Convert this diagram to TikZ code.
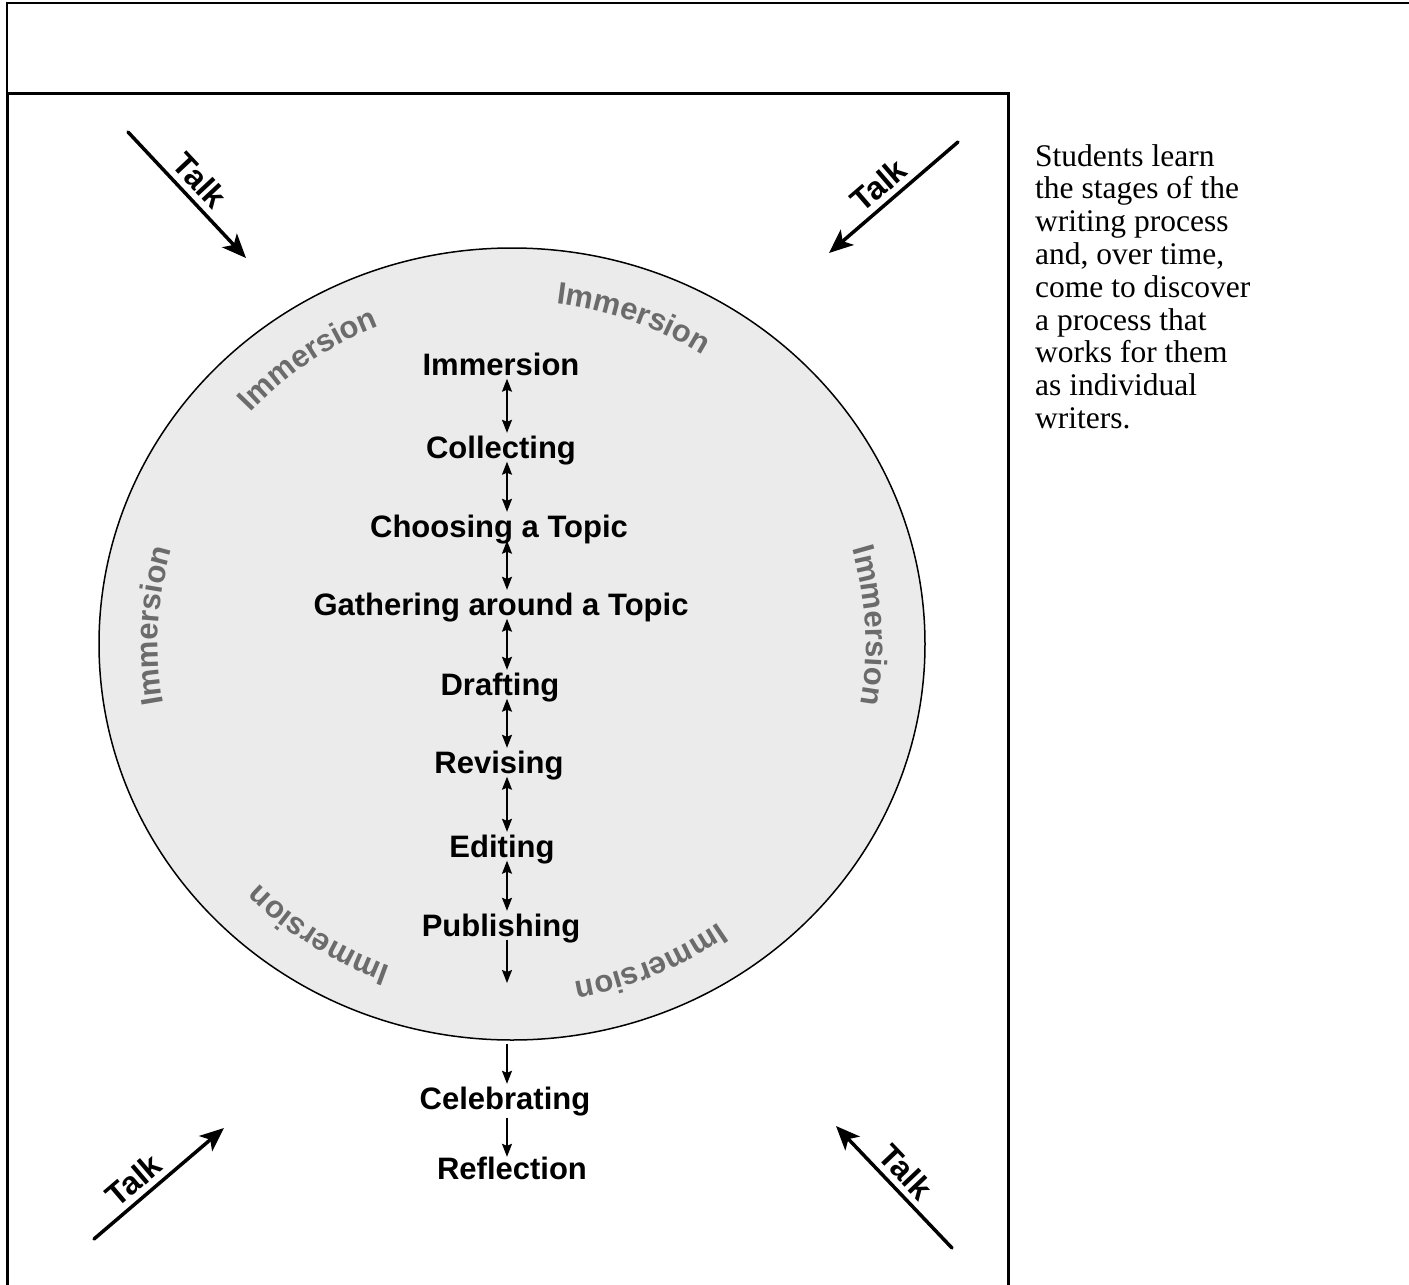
\documentclass[tikz,border=0pt]{standalone}
\usepackage{fontspec}
\setmainfont{Liberation Serif}
\newfontfamily\arialfont{Liberation Sans}
\usetikzlibrary{arrows.meta,shapes.geometric,decorations.text}
\definecolor{circfill}{HTML}{EBEBEB}
\definecolor{immgray}{HTML}{6B6B6B}
\begin{document}
\begin{tikzpicture}[x=1pt,y=1pt,
  stage/.style={font=\arialfont\bfseries\fontsize{31}{36}\selectfont, inner sep=0pt, text height=25pt, text depth=3.5pt, anchor=base},
  dbl/.style={line width=1.6pt, {Stealth[length=13pt,width=10pt,inset=2pt]}-{Stealth[length=13pt,width=10pt,inset=2pt]}},
  down/.style={line width=1.6pt, -{Stealth[length=13pt,width=10pt,inset=2pt]}},
  talkarrow/.style={line width=3.5pt, line cap=round, -{Stealth[length=24pt,width=20pt,inset=6pt]}},
  talkrev/.style={line width=3.5pt, line cap=round, {Stealth[length=24pt,width=20pt,inset=6pt]}-},
  talklabel/.style={font=\arialfont\bfseries\fontsize{32}{36}\selectfont, sloped, above=6pt, inner sep=0pt, text depth=0pt},
  imm/.style={decorate, decoration={text along path, text={|\arialfont\bfseries\fontsize{31}{36}\selectfont|Immersion}, text align=center, text color=immgray}},
  border/.style={line width=2pt},
  frame/.style={line width=3pt}
]
\useasboundingbox (0,0) rectangle (1409,-1285);
% frames
\draw[border] (7,-93) -- (7,-3) -- (1409,-3);
\draw[frame] (7,-1285) -- (7,-93) -- (1008,-93) -- (1008,-1285);

% circle
\node[ellipse, draw, fill=circfill, line width=1.5pt, minimum width=826pt, minimum height=792pt, inner sep=0pt] (circ) at (512,-644) {};

% gray Immersion labels along the rim
\path[imm] ([shift={(155:354 and 343)}]circ.center) arc[start angle=155, end angle=95, x radius=354, y radius=343];
\path[imm] ([shift={(100:354 and 343)}]circ.center) arc[start angle=100, end angle=40, x radius=354, y radius=343];
\path[imm] ([shift={(207:354 and 343)}]circ.center) arc[start angle=207, end angle=147, x radius=354, y radius=343];
\path[imm] ([shift={(33:354 and 343)}]circ.center) arc[start angle=33, end angle=-27, x radius=354, y radius=343];
\path[imm] ([shift={(267:354 and 343)}]circ.center) arc[start angle=267, end angle=207, x radius=354, y radius=343];
\path[imm] ([shift={(323:354 and 343)}]circ.center) arc[start angle=323, end angle=263, x radius=354, y radius=343];

% stages
\node[stage] (s1) at (501,-375) {Immersion};
\node[stage] (s2) at (501,-458) {Collecting};
\node[stage] (s3) at (499,-537) {Choosing a Topic};
\node[stage] (s4) at (501,-615) {Gathering around a Topic};
\node[stage] (s5) at (500,-695) {Drafting};
\node[stage] (s6) at (499,-773) {Revising};
\node[stage] (s7) at (502,-857) {Editing};
\node[stage] (s8) at (501,-936) {Publishing};
\node[stage] (s9) at (505,-1109) {Celebrating};
\node[stage] (s10) at (512,-1179) {Reflection};
\coordinate (ax) at (507,0);
\coordinate (pubend) at (507,-983);

\draw[dbl] (s1.south -| ax) -- (s2.north -| ax);
\draw[dbl] (s2.south -| ax) -- (s3.north -| ax);
\draw[dbl] (s3.south -| ax) -- (s4.north -| ax);
\draw[dbl] (s4.south -| ax) -- (s5.north -| ax);
\draw[dbl] (s5.south -| ax) -- (s6.north -| ax);
\draw[dbl] (s6.south -| ax) -- (s7.north -| ax);
\draw[dbl] (s7.south -| ax) -- (s8.north -| ax);
\draw[down] (s8.south -| ax) -- (pubend);
\draw[down] ([yshift=-3pt]circ.south -| ax) -- (s9.north -| ax);
\draw[down] ([yshift=-5pt]s9.south -| ax) -- ([yshift=-3pt]s10.north -| ax);

% Talk arrows
\coordinate (tl1) at (128,-132);
\coordinate (tl2) at (246,-258);
\coordinate (tr1) at (958,-142);
\coordinate (tr2) at (829,-253);
\coordinate (bl1) at (94,-1239);
\coordinate (bl2) at (224,-1128);
\coordinate (br1) at (952,-1248);
\coordinate (br2) at (836,-1126);
\draw[talkarrow] (tl1) -- node[talklabel, pos=0.49] (tlt) {Talk} (tl2);
\draw[talkrev] (tr2) -- node[talklabel, pos=0.48] (trt) {Talk} (tr1);
\draw[talkarrow] (bl1) -- node[talklabel, pos=0.40] (blt) {Talk} (bl2);
\draw[talkrev] (br2) -- node[talklabel, pos=0.485] (brt) {Talk} (br1);

% description
\node[anchor=north west, align=left, inner sep=0pt, font=\fontsize{31.5}{32.8}\selectfont] (desc) at (1035,-144)
 {Students learn\\the stages of the\\writing process\\and, over time,\\come to discover\\a process that\\works for them\\as individual\\writers.};
\end{tikzpicture}
\end{document}
